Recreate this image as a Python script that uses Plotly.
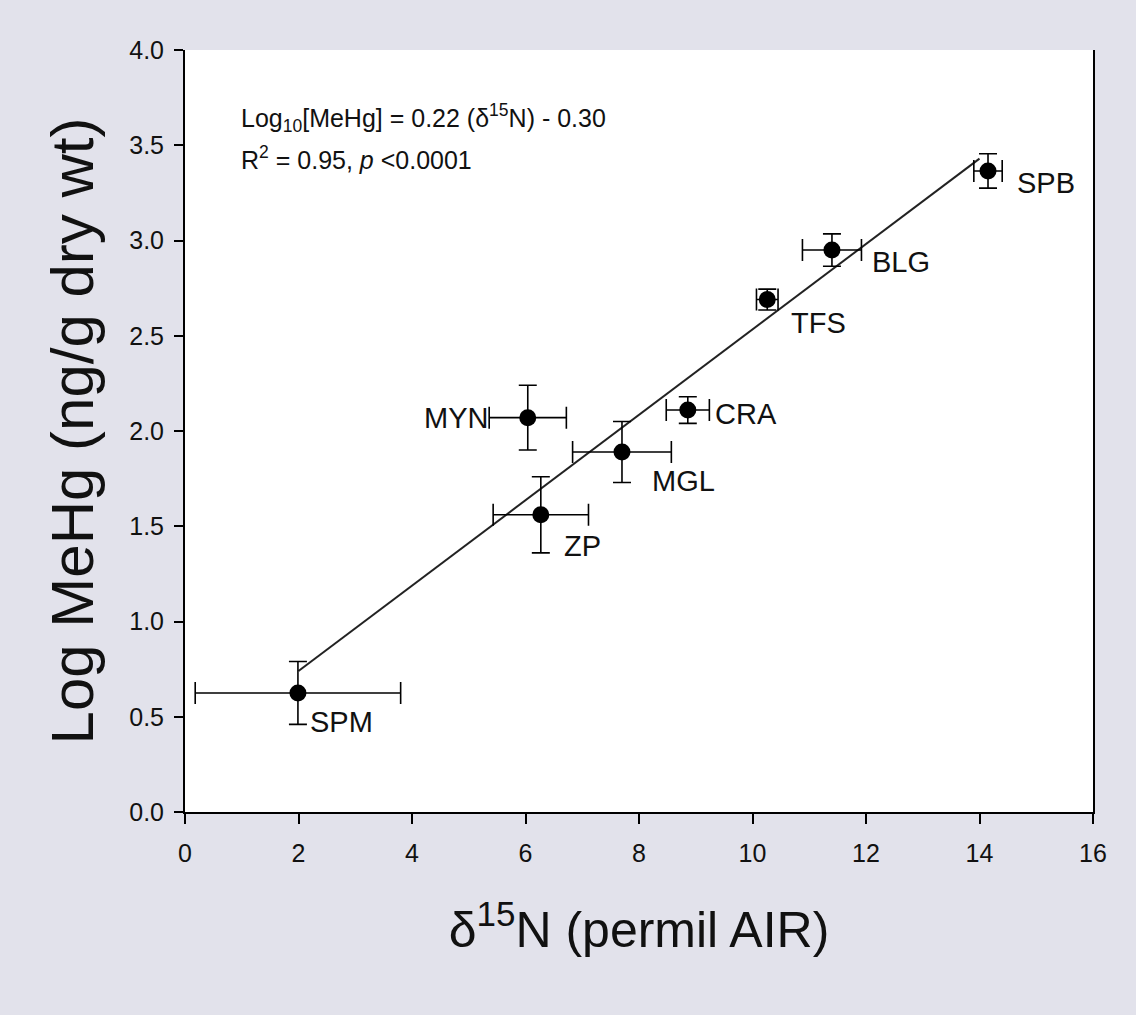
import plotly.graph_objects as go

# ---- data ----
labels = ["SPM", "ZP", "MYN", "MGL", "CRA", "TFS", "BLG", "SPB"]
d15n = [1.99, 6.27, 6.04, 7.70, 8.86, 10.26, 11.40, 14.15]
d15n_err = [1.81, 0.84, 0.68, 0.87, 0.38, 0.19, 0.52, 0.25]
log_mehg = [0.625, 1.56, 2.07, 1.89, 2.11, 2.69, 2.95, 3.365]
log_mehg_err = [0.165, 0.20, 0.17, 0.16, 0.07, 0.055, 0.085, 0.09]
fit_x = [2.0, 14.0]
fit_y = [0.74, 3.43]
x_ticks = [0, 2, 4, 6, 8, 10, 12, 14, 16]
y_ticks = [0.0, 0.5, 1.0, 1.5, 2.0, 2.5, 3.0, 3.5, 4.0]

# label placement (pixel offsets from each point)
label_style = {
    "SPM": (10, -29, "left"),
    "ZP": (21, -31, "left"),
    "MYN": (-38, 0, "right"),
    "MGL": (28, -29, "left"),
    "CRA": (25, -4, "left"),
    "TFS": (22, -23, "left"),
    "BLG": (38, -12, "left"),
    "SPB": (27, -12, "left"),
}

FONT = "Liberation Sans, Arial, sans-serif"
BG = "#E2E2EB"

fig = go.Figure()
fig.add_trace(go.Scatter(
    x=fit_x, y=fit_y, mode="lines",
    line=dict(color="#222222", width=2), showlegend=False, hoverinfo="skip"))
fig.add_trace(go.Scatter(
    x=d15n, y=log_mehg, mode="markers",
    marker=dict(color="black", size=17),
    error_x=dict(type="data", array=d15n_err, color="black", thickness=1.6, width=11),
    error_y=dict(type="data", array=log_mehg_err, color="black", thickness=1.6, width=9),
    showlegend=False))

for lab, xv, yv in zip(labels, d15n, log_mehg):
    dx, dy, anchor = label_style[lab]
    fig.add_annotation(x=xv, y=yv, text=lab, showarrow=False,
                       xanchor=anchor, yanchor="middle", xshift=dx, yshift=dy,
                       font=dict(family=FONT, size=29, color="#111111"))

fig.add_annotation(xref="paper", yref="paper", x=0.06, y=0.911,
                   text="Log<sub>10</sub>[MeHg] = 0.22 (δ<sup>15</sup>N) - 0.30",
                   showarrow=False, xanchor="left", yanchor="middle",
                   font=dict(family=FONT, size=25, color="#111111"))
fig.add_annotation(xref="paper", yref="paper", x=0.06, y=0.858,
                   text="R<sup>2</sup> = 0.95, <i>p</i> &lt;0.0001",
                   showarrow=False, xanchor="left", yanchor="middle",
                   font=dict(family=FONT, size=25, color="#111111"))

fig.update_layout(
    width=1136, height=1015,
    margin=dict(l=185, r=43, t=50, b=203),
    paper_bgcolor=BG, plot_bgcolor="white",
    font=dict(family=FONT, color="#111111"),
    xaxis=dict(range=[0, 16], tickvals=x_ticks, ticktext=[str(v) for v in x_ticks],
               ticks="outside", ticklen=10, tickwidth=1.5, tickcolor="black",
               ticklabelstandoff=8,
               showline=True, linecolor="black", linewidth=2,
               showgrid=False, zeroline=False,
               tickfont=dict(family=FONT, size=25),
               title=dict(text="δ<sup>15</sup>N (permil AIR)", standoff=46,
                          font=dict(family=FONT, size=50))),
    yaxis=dict(range=[0, 4.0], tickvals=y_ticks, ticktext=[f"{v:.1f}" for v in y_ticks],
               ticks="outside", ticklen=9, tickwidth=1.5, tickcolor="black",
               ticklabelstandoff=5,
               showline=True, linecolor="black", linewidth=2, mirror=True,
               showgrid=False, zeroline=False,
               tickfont=dict(family=FONT, size=25),
               title=dict(text="Log MeHg (ng/g dry wt)", standoff=16,
                          font=dict(family=FONT, size=60))),
)

fig.write_html("out.html")
